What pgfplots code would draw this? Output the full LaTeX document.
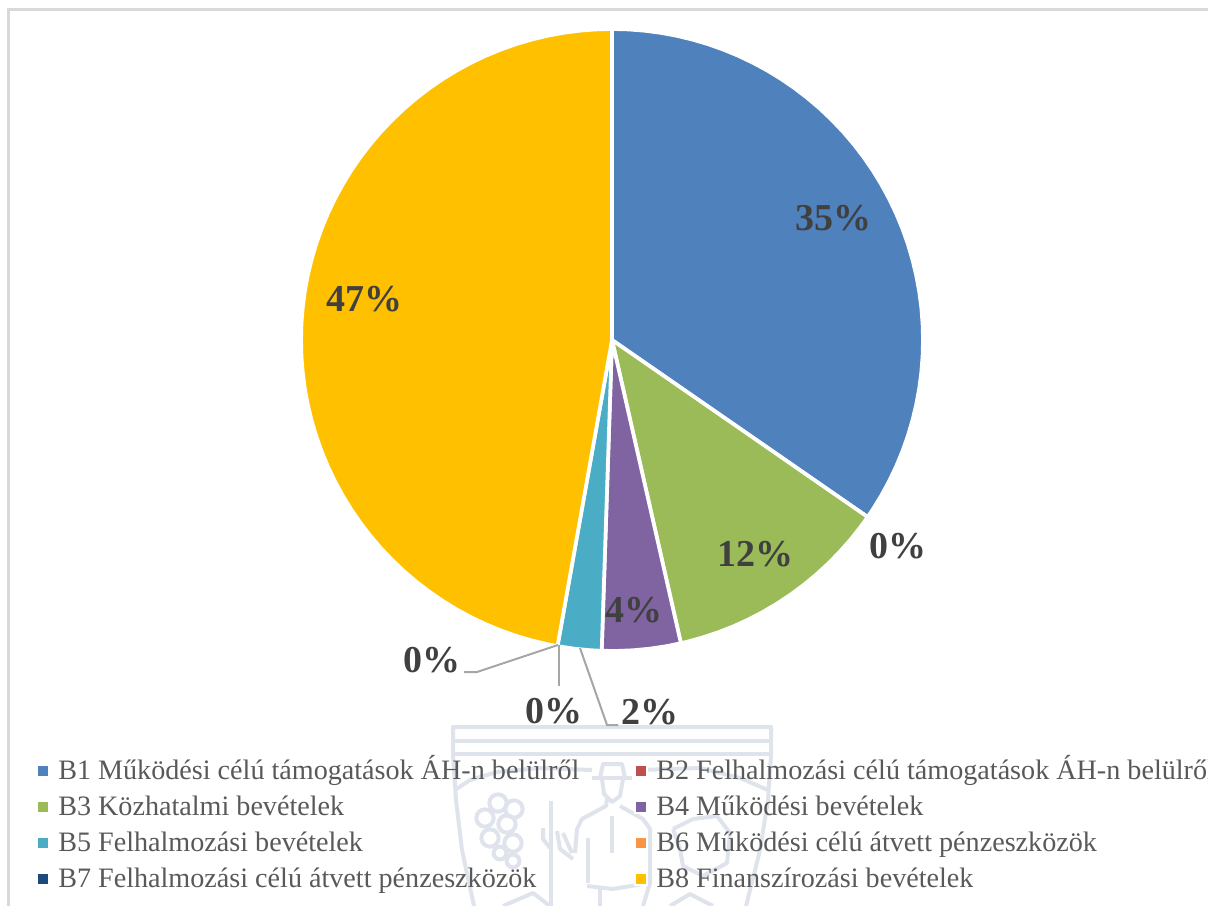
\documentclass[border=0pt]{standalone}
\usepackage{fontspec}
\setmainfont{Liberation Serif}
\usepackage{pgfplots}
\pgfplotsset{compat=1.18}
\definecolor{cB1}{HTML}{4F81BD}
\definecolor{cB2}{HTML}{C0504D}
\definecolor{cB3}{HTML}{9BBB59}
\definecolor{cB4}{HTML}{8064A2}
\definecolor{cB5}{HTML}{4BACC6}
\definecolor{cB6}{HTML}{F79646}
\definecolor{cB7}{HTML}{1F497D}
\definecolor{cB8}{HTML}{FFC000}
\definecolor{wm}{HTML}{DFE3EC}
\definecolor{frame}{HTML}{D9D9D9}
\definecolor{leader}{HTML}{A6A6A6}
\definecolor{legtext}{HTML}{595959}
\definecolor{labtext}{HTML}{404040}
\pgfplotsset{
  pxaxis/.style={hide axis, x=0.75pt, y=0.75pt, xmin=0, xmax=1208, ymin=0, ymax=906, y dir=reverse, clip=false},
  wmline/.style={wm, line width=3pt, no markers, line join=round},
  leg/.style={only marks, mark=square*, mark size=4.6pt, mark options={draw=white, line width=1pt, fill=#1}},
  slice/.style={fill=#1, draw=white, line width=2.8pt, no markers, data cs=polar, line join=miter}
}
\newcommand{\lt}[3]{\node[anchor=base west, text=legtext, font=\fontsize{21.1}{25}\selectfont, inner sep=0pt] at (axis cs:#1,#2) {#3};}
\newcommand{\dl}[3]{\node[anchor=center, text=labtext, font=\fontsize{28.5}{32}\selectfont\bfseries, inner sep=0pt] at (axis cs:#1,#2) {#3};}
\begin{document}
\begin{tikzpicture}
\path[use as bounding box] (0,0) rectangle (906pt,679.5pt);
\clip (0,0) rectangle (906pt,679.5pt);
% background: frame, watermark, legend
\begin{axis}[pxaxis]
\addplot[frame, line width=2pt, no markers] coordinates {(8.5,906)(8.5,9.5)(1208,9.5)};
% watermark shield
\addplot[wmline] coordinates {(474,906)(462,850)(456,800)(453,755)(453,727)(771,727)(771,755)(768,800)(760,850)(746,906)};
\addplot[wmline] coordinates {(453,741)(771,741)};
\addplot[wmline] coordinates {(453,754)(771,754)};
\addplot[wmline] coordinates {(455,790)(470,780)(497,772)(540,768)(592,770)};
\addplot[wmline] coordinates {(640,770)(700,768)(740,778)(768,790)};
% figure
\addplot[wmline] coordinates {(600,778)(603,764)(622,764)(625,778)};
\addplot[wmline] coordinates {(592,778)(632,778)};
\addplot[wmline] coordinates {(602,779)(604,794)(612,802)(620,796)(623,779)};
\addplot[wmline] coordinates {(607,799)(606,806)(582,819)(577,829)(575,853)};
\addplot[wmline] coordinates {(557,831)(560,849)(573,859)};
\addplot[wmline] coordinates {(563,833)(572,853)};
\addplot[wmline] coordinates {(551,801)(551,906)};
\addplot[wmline] coordinates {(543,828)(543,839)(550,848)};
\addplot[wmline] coordinates {(612,816)(612,853)};
\addplot[wmline] coordinates {(620,806)(643,819)(650,829)(650,883)(643,906)};
\addplot[wmline] coordinates {(588,838)(588,883)};
\addplot[wmline] coordinates {(587,886)(613,889)(643,884)};
\addplot[wmline] coordinates {(600,889)(600,906)};
\addplot[wmline] coordinates {(673,829)(693,819)(717,816)(730,833)(727,863)(703,876)(683,866)(680,849)(673,829)};
\addplot[wmline] coordinates {(503,906)(533,893)(550,906)};
\addplot[wmline] coordinates {(670,906)(690,894)(713,906)};
% grapes
\addplot[only marks, mark=o, mark size=6.5pt, mark options={wm, line width=3pt}] coordinates {(498,803)(514,809)(485,818)(507,824)(490,838)(513,843)};
\addplot[only marks, mark=o, mark size=4.8pt, mark options={wm, line width=3pt}] coordinates {(500,853)(513,861)};
% legend
\addplot[leg=cB1] coordinates {(43,771)};
\addplot[leg=cB2] coordinates {(641,771)};
\addplot[leg=cB3] coordinates {(43,807)};
\addplot[leg=cB4] coordinates {(641,807)};
\addplot[leg=cB5] coordinates {(43,843)};
\addplot[leg=cB6] coordinates {(641,843)};
\addplot[leg=cB7] coordinates {(43,879)};
\addplot[leg=cB8] coordinates {(641,879)};
\lt{58}{779}{B1 Működési célú támogatások ÁH-n belülről}
\lt{656}{779}{B2 Felhalmozási célú támogatások ÁH-n belülről}
\lt{58}{815}{B3 Közhatalmi bevételek}
\lt{656}{815}{B4 Működési bevételek}
\lt{58}{851}{B5 Felhalmozási bevételek}
\lt{656}{851}{B6 Működési célú átvett pénzeszközök}
\lt{58}{887}{B7 Felhalmozási célú átvett pénzeszközök}
\lt{656}{887}{B8 Finanszírozási bevételek}
\end{axis}
% pie: angle in degrees, radius in pixels
\begin{axis}[hide axis, x=0.75pt, y=0.75pt, xmin=-612, xmax=596, ymin=-566, ymax=340, clip=false]
\addplot[slice=cB1] coordinates {(0,0)(90,311)(87,311)(84,311)(81,311)(78,311)(75,311)(72,311)(69,311)(66,311)(63,311)(60,311)(57,311)(54,311)(51,311)(48,311)(45,311)(42,311)(39,311)(36,311)(33,311)(30,311)(27,311)(24,311)(21,311)(18,311)(15,311)(12,311)(9,311)(6,311)(3,311)(0,311)(-3,311)(-6,311)(-9,311)(-12,311)(-15,311)(-18,311)(-21,311)(-24,311)(-27,311)(-30,311)(-33,311)(-34.7,311)(0,0)};
\addplot[slice=cB3] coordinates {(0,0)(-34.7,311)(-37,311)(-40,311)(-43,311)(-46,311)(-49,311)(-52,311)(-55,311)(-58,311)(-61,311)(-64,311)(-67,311)(-70,311)(-73,311)(-76,311)(-77.2,311)(0,0)};
\addplot[slice=cB4] coordinates {(0,0)(-77.2,311)(-80,311)(-83,311)(-86,311)(-89,311)(-91.9,311)(0,0)};
\addplot[slice=cB5] coordinates {(0,0)(-91.9,311)(-94,311)(-97,311)(-100.1,311)(0,0)};
\addplot[slice=cB8] coordinates {(0,0)(-100.1,311)(-102,311)(-105,311)(-108,311)(-111,311)(-114,311)(-117,311)(-120,311)(-123,311)(-126,311)(-129,311)(-132,311)(-135,311)(-138,311)(-141,311)(-144,311)(-147,311)(-150,311)(-153,311)(-156,311)(-159,311)(-162,311)(-165,311)(-168,311)(-171,311)(-174,311)(-177,311)(-180,311)(-183,311)(-186,311)(-189,311)(-192,311)(-195,311)(-198,311)(-201,311)(-204,311)(-207,311)(-210,311)(-213,311)(-216,311)(-219,311)(-222,311)(-225,311)(-228,311)(-231,311)(-234,311)(-237,311)(-240,311)(-243,311)(-246,311)(-249,311)(-252,311)(-255,311)(-258,311)(-261,311)(-264,311)(-267,311)(-270,311)(0,0)};
\end{axis}
% leader lines and data labels
\begin{axis}[pxaxis]
\addplot[leader, line width=1.5pt, no markers] coordinates {(464,672)(477,672)(558,645)};
\addplot[leader, line width=1.5pt, no markers] coordinates {(559,645)(559,686)};
\addplot[leader, line width=1.5pt, no markers] coordinates {(580,648)(607,725)(618,725)};
\dl{833}{218}{35\%}
\dl{364}{299}{47\%}
\dl{755}{554}{12\%}
\dl{634}{610}{4\%}
\dl{898}{546}{0\%}
\dl{432}{660}{0\%}
\dl{554}{711}{0\%}
\dl{650}{712}{2\%}
\end{axis}
\end{tikzpicture}
\end{document}
